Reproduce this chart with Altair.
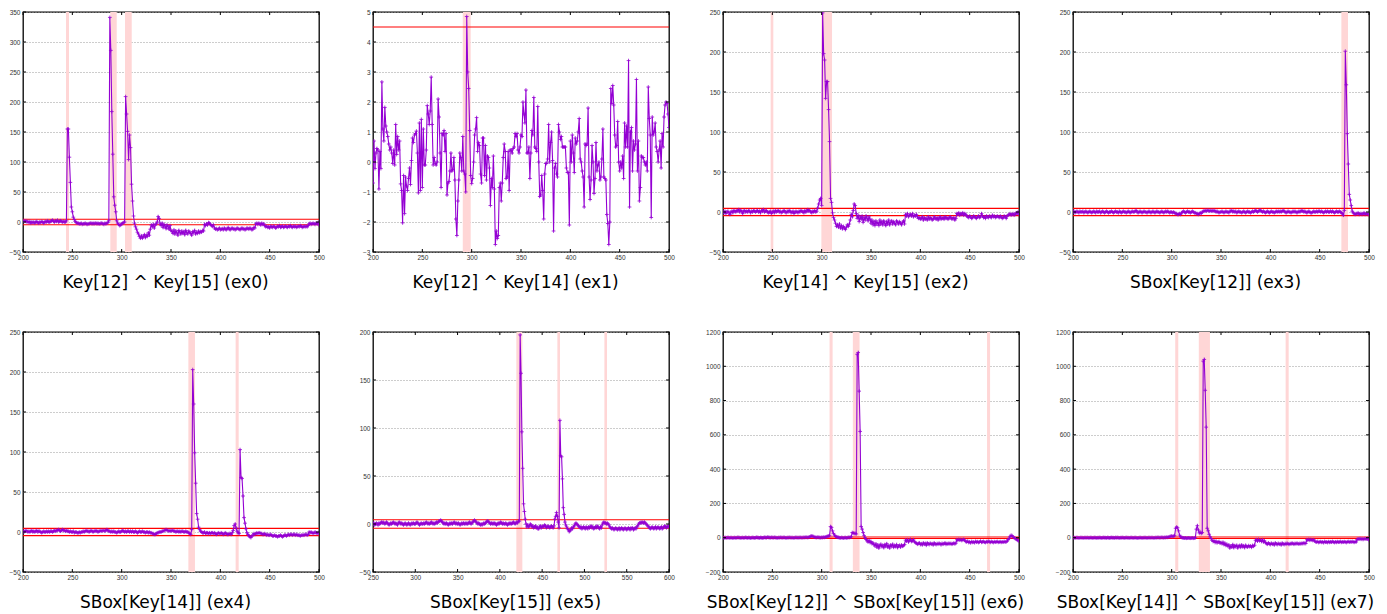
import altair as alt
import pandas as pd

PURPLE = "#9400d3"
BAND = "#ffd6d6"
RED = "#ff0000"
PLUS = "M-1,0L1,0M0,-1L0,1"
W, H = 296, 240

THRESHOLDS = [4.5, -4.5]
X_TICKS_A = [200, 250, 300, 350, 400, 450, 500]
X_TICKS_B = [250, 300, 350, 400, 450, 500, 550, 600]

TITLES = [
    "Key[12] ^ Key[15] (ex0)",
    "Key[12] ^ Key[14] (ex1)",
    "Key[14] ^ Key[15] (ex2)",
    "SBox[Key[12]] (ex3)",
    "SBox[Key[14]] (ex4)",
    "SBox[Key[15]] (ex5)",
    "SBox[Key[12]] ^ SBox[Key[15]] (ex6)",
    "SBox[Key[14]] ^ SBox[Key[15]] (ex7)",
]

# ---- ex0 : x 200..500
EX0 = [
    1, 2, 1, 2, 0, 1, -1, 1, -2, 0,
    -1, 0, -2, 0, 1, -1, -2, 0, -1, 1,
    0, -2, 0, 1, 0, 2, 0, 0, 1, 2,
    3, 1, 0, 2, 1, 3, 0, 1, 2, 1,
    0, 1, 0, 0, 2, 155, 155, 108, 66, 25,
    17, 8, 4, 1, -1, -2, -2, -3, -3, -2,
    -4, -3, -3, -2, -3, -4, -3, -3, -2, -2,
    -3, -2, -3, -2, -2, -3, -2, -3, -3, -2,
    -2, -3, -4, -2, -3, -2, -1, 2, 341, 286,
    184, 113, 42, 28, 17, 2, -2, -4, -6, -5,
    -3, -2, -1, 0, 209, 180, 151, 104, 145, 124,
    63, 35, 10, -2, -8, -12, -17, -20, -24, -27,
    -23, -27, -24, -21, -26, -22, -24, -18, -22, -12,
    -5, -8, -4, -10, -5, -3, 0, 9, 6, -3,
    -6, -2, -9, -4, -7, -11, -5, -8, -12, -6,
    -14, -16, -19, -13, -20, -15, -18, -22, -14, -17,
    -20, -15, -19, -16, -21, -14, -18, -20, -15, -17,
    -19, -22, -16, -18, -14, -20, -17, -19, -15, -18,
    -16, -17, -14, -15, -4, -6, -3, -5, -1, -2,
    -4, -6, -7, -5, -10, -12, -11, -13, -12, -10,
    -13, -12, -11, -13, -10, -12, -13, -11, -9, -12,
    -13, -11, -10, -12, -11, -13, -12, -10, -11, -12,
    -13, -11, -10, -12, -11, -13, -12, -10, -11, -12,
    -10, -11, -13, -12, -9, -10, -3, -2, -4, -2,
    -3, -5, -2, -4, -3, -6, -8, -7, -9, -8,
    -10, -7, -8, -9, -7, -8, -10, -9, -7, -8,
    -6, -9, -8, -7, -9, -8, -7, -8, -9, -7,
    -8, -6, -8, -9, -7, -8, -7, -9, -8, -7,
    -8, -6, -7, -9, -8, -7, -8, -7, -8, -6,
    -3, -2, -4, -3, -2, -3, -4, -2, -3, -1,
    -5,
]

# ---- ex1 : x 200..500
EX1 = [
    -0.7, 0.7, -0.22, 0.3, 0.45, 0.4, -0.9, 0.35, -0.22, 2.67,
    1.1, 0.7, 1.82, 1.2, 1.0, 0.85, 0.6, 0.4, 0.5, 0.3,
    -0.05, 0.4, -0.1, 1.25, 0.25, 0.85, 0.4, 0.7, -0.73, -0.95,
    -2.03, -0.45, -1.72, -0.5, -0.8, -0.95, -0.55, -0.2, -0.75, 0.05,
    0.8, 0.65, 0.9, 0.95, 1.03, 0.3, -1.03, 1.3, -0.95, 1.42,
    -0.85, 1.1, -0.1, -0.1, 0.4, 1.88, 1.6, 1.25, 1.7, 2.83,
    1.25, -0.1, 0.15, -0.05, -0.1, 0.0, 2.1, 1.5, 0.3, -0.85,
    0.95, 0.9, 1.05, 0.35, 0.95, -1.1, -0.7, -0.65, -0.3, 0.3,
    -0.3, -0.25, 0.15, -0.6, -1.9, -2.45, -1.3, -0.6, 0.3, 0.15,
    -0.3, 0.85, -0.3, -0.4, -1.0, 4.85, 3.0, 2.45, 1.05, -0.45,
    -0.72, -0.55, 0.0, 0.9, 1.1, 1.48, 0.35, 0.65, 0.55, -0.4,
    -0.7, 0.8, 0.8, -0.45, 0.55, -0.6, 0.2, 0.15, -0.2, -1.45,
    -0.55, -0.85, 0.2, -0.9, -2.75, -2.3, -2.55, -2.45, -0.85, -0.7,
    -1.3, -0.7, 0.15, 0.6, 0.35, -0.55, -0.5, 0.35, -0.95, 0.4,
    0.4, 0.3, 0.45, 0.5, 0.95, 0.85, 0.95, 0.4, 0.3, 0.5,
    0.9, 0.85, 2.0, 1.6, 1.3, 2.4, 0.3, 0.3, 0.5, -0.55,
    0.3, 1.05, 0.9, 2.15, 0.5, 0.45, 0.35, 1.85, 0.0, -1.15,
    -1.1, -0.45, -0.95, -1.9, -0.4, -0.05, -0.05, 0.1, 1.25, 0.0,
    0.65, 1.0, 0.05, -2.3, -0.2, -0.05, -0.4, -0.5, 1.25, 1.0,
    0.75, 0.85, 0.5, 0.5, 0.5, 0.5, -0.2, -0.35, -0.35, -2.1,
    0.7, 0.0, 0.9, 0.3, -0.35, 0.8, 0.6, 0.7, 1.0, 1.45,
    0.1, 0.0, -0.3, -0.5, -1.5, 0.6, 0.55, 0.6, 1.8, -0.5,
    -1.25, -0.6, 0.55, 0.0, -1.05, -0.55, 0.65, -0.3, -0.1, 0.0,
    -0.6, -0.5, 0.1, 1.1, -0.5, -0.55, -0.6, -1.75, -2.05, -2.75,
    -2.0, 2.45, 1.95, 2.55, 1.9, 0.9, 0.5, 0.55, 1.35, 0.0,
    -0.3, 0.0, -0.2, 0.2, -0.55, 1.3, 0.5, 1.2, 0.5, 3.38,
    -1.5, 1.0, 1.15, -0.3, 0.7, 0.4, 0.6, 2.75, -0.3, 0.7,
    -1.3, -0.85, 0.2, 0.15, 0.15, 0.0, -0.1, 0.0, -0.3, 2.5,
    1.45, 0.9, -1.85, 1.5, 0.9, 1.0, 1.3, 0.5, 0.35, 0.0,
    0.4, 0.7, -0.2, 0.95, 0.5, 1.5, 1.9, 2.0, 1.95, 1.6,
    1.15,
]

# ---- ex2 : x 200..500
EX2 = [
    0, -1, 1, -2, 0, 1, -1, -3, 0, 1,
    -1, 2, 1, 0, 2, 1, 3, 0, 2, 1,
    -2, 1, 2, 0, 1, 0, 2, 1, -1, 1,
    0, 2, 1, 0, 1, 2, 0, 1, -1, 2,
    1, 3, 0, 1, 2, 0, -1, 0, 1, -2,
    0, 1, -1, 2, 0, 1, 2, 0, 1, -1,
    0, 1, 2, 0, -1, 1, 0, 2, 1, -1,
    0, 1, -2, 0, 1, 0, -1, 1, 0, 2,
    1, 0, -1, 2, 0, 1, 3, 1, 2, 0,
    -1, 1, 0, 2, 0, 1, 5, 10, 15, 17,
    8, 249, 198, 190, 142, 163, 163, 128, 88, 17,
    12, -1, -7, -10, -14, -18, -16, -19, -15, -20,
    -17, -21, -18, -20, -22, -19, -16, -18, -15, -10,
    -3, -6, 2, 10, 8, -2, -8, -4, -12, -6,
    -9, -5, -13, -7, -10, -5, -8, -11, -6, -9,
    -14, -10, -16, -12, -17, -11, -15, -13, -17, -10,
    -15, -12, -16, -11, -14, -17, -12, -15, -10, -16,
    -13, -11, -15, -12, -14, -16, -11, -13, -15, -12,
    -14, -16, -13, -11, -15, -3, -5, -2, -6, -4,
    -3, -5, -2, -6, -4, -5, -3, -6, -8, -7,
    -9, -8, -6, -10, -7, -9, -8, -10, -6, -9,
    -7, -8, -10, -9, -6, -8, -9, -7, -10, -8,
    -6, -9, -8, -7, -9, -6, -8, -7, -9, -8,
    -6, -7, -9, -8, -7, -10, -8, -2, -3, -1,
    -4, -2, -3, -1, -4, -2, -3, -5, -6, -7,
    -5, -6, -8, -7, -5, -6, -7, -8, -6, -5,
    -7, -6, -2, -5, -7, -6, -8, -5, -6, -7,
    -5, -6, -7, -4, -6, -5, -7, -6, -5, -6,
    -7, -5, -6, -8, -7, -5, -6, -8, -5, -4,
    -3, -2, -4, -3, -2, -4, -3, -1, -2, 0,
    -3,
]

# ---- ex3 : x 200..500
EX3 = [
    0, 1, -1, 0, 1, 0, -1, 1, 0, 0,
    1, -1, 0, 1, 0, -1, 0, 1, 0, -1,
    0, 1, 0, -1, 1, 0, 0, 1, -1, 0,
    1, 0, -1, 0, 1, 0, -1, 0, 0, 1,
    0, -1, 0, 1, 0, 0, -1, 1, 0, -1,
    0, 1, 0, 0, -1, 0, 1, 0, -1, 0,
    1, 0, 0, 1, 2, 0, -1, 0, 1, 0,
    -1, 0, 1, 0, 0, -1, 0, 1, 0, -1,
    0, 1, 0, -1, 0, 1, 0, 0, -1, 0,
    1, 0, -1, 0, 1, 0, 1, 0, -1, 0,
    0, -1, 0, -1, -2, -2, -3, -3, -2, -3,
    -1, 0, 1, 0, -1, 0, 1, 0, 0, -1,
    0, 1, 0, -1, -1, -2, -2, -3, -2, -1,
    -2, 0, 1, 1, 2, 1, 2, 2, 1, 2,
    1, 2, 1, 2, 1, 0, 1, 0, -1, 0,
    0, 1, 0, -1, 0, 1, 0, 0, -1, 1,
    1, 2, 0, 1, 0, 1, -1, 0, 1, 0,
    0, -1, 0, 1, 0, -1, 0, 1, 0, 0,
    -1, 0, 1, 0, 1, 2, 1, 0, 1, 2,
    2, 1, 0, 1, 0, -1, 0, 1, 0, -1,
    0, 1, 0, 0, -1, 0, 1, 0, 1, 0,
    1, 0, 1, 2, 1, 0, -1, 0, 1, 0,
    0, -1, 0, 1, 0, 1, 0, -1, 0, 1,
    0, 1, 2, 1, 0, 1, 0, -1, 0, 1,
    0, -1, -1, 0, 1, 0, 0, 1, 0, 1,
    1, 0, 1, 0, -1, 0, 1, 0, 1, 0,
    0, 1, 0, 1, 0, -1, 0, 1, 0, 0,
    1, 0, -1, -2, -4, 2, 201, 159, 98, 60,
    22, 15, 8, 1, -1, -2, -3, -2, -2, -1,
    -3, -2, -2, -3, -2, -1, -3, -2, -2, -3,
    -3,
]

# ---- ex4 : x 200..500
EX4 = [
    1, 0, 1, 2, 1, 0, 1, 0, 1, 2,
    0, 1, 0, 1, 2, 0, 1, 1, 0, -1,
    0, 1, 0, 0, 1, 0, 1, 0, 1, 1,
    0, 1, 2, 1, 2, 2, 3, 2, 1, 2,
    3, 2, 2, 1, 2, 1, 1, 0, 1, 0,
    0, 1, -1, 0, 0, -1, -1, 0, -1, 0,
    0, 1, 0, 1, 2, 1, 1, 0, 1, 2,
    1, 0, 1, 1, 2, 1, 0, 1, 1, 2,
    1, 2, 2, 1, 2, 3, 2, 1, 1, 0,
    1, 0, 1, 0, 0, -1, 0, 1, 0, 0,
    1, 2, 1, 0, 1, 0, 1, 1, 0, 1,
    0, 1, 0, 0, 1, 0, -1, 0, 1, 0,
    0, 1, 0, 0, -1, 0, 0, -1, 0, -1,
    -1, -2, -2, -3, -3, -2, -1, -1, 0, 0,
    0, 1, 1, 2, 2, 3, 2, 2, 1, 2,
    1, 2, 2, 1, 1, 0, 1, 1, 0, 1,
    0, 1, 1, 0, 0, 1, 0, 0, -1, -2,
    -3, 3, 203, 160, 99, 61, 23, 16, 6, 3,
    1, 0, -1, -1, 0, -2, -1, -1, -2, -1,
    -2, -1, -1, -2, -1, -2, -3, -2, -1, -2,
    -2, -1, -2, -3, -2, -1, -2, -3, -3, -2,
    -2, -3, -1, 2, 8, 10, 5, 1, -1, -2,
    103, 68, 67, 45, 18, 11, 4, -1, -3, -5,
    -6, -7, -5, -4, -2, -3, -2, -1, -2, -1,
    -1, -2, -2, -3, -3, -2, -3, -4, -3, -4,
    -4, -3, -4, -5, -5, -4, -5, -5, -6, -5,
    -5, -4, -5, -6, -5, -4, -4, -5, -4, -3,
    -4, -3, -3, -4, -3, -3, -4, -3, -4, -4,
    -4, -5, -4, -4, -4, -4, -3, -3, -4, -3,
    0, -1, 0, -1, -2, -1, 0, -1, -2, -1,
    -2,
]

# ---- ex5 : x 250..600
EX5 = [
    0, 1, -1, 0, 1, 0, -1, 1, 0, 1,
    2, 1, 2, 1, 0, 1, 2, 1, 0, -1,
    0, 1, 0, 1, 2, 1, 0, 1, 0, -1,
    1, 2, 1, 0, 1, 0, -1, 0, 1, 0,
    -1, 0, 1, 0, -1, 0, 1, 0, 1, 0,
    0, 1, 2, 1, 0, -1, 0, 1, 0, 0,
    1, 0, 1, 2, 1, 0, 1, 0, 1, 2,
    1, 0, 1, 0, 1, 2, 1, 2, 3, 3,
    4, 3, 2, 1, 0, 1, 0, 1, 0, -1,
    0, 1, 0, 1, 0, 1, 2, 1, 0, 1,
    0, 1, 0, -1, 0, 1, 0, 1, 0, 1,
    0, 1, 0, 1, 2, 1, 0, 1, 2, 3,
    4, 3, 2, 1, 0, 1, 0, -1, 0, -1,
    0, 1, 0, 1, 2, 3, 3, 2, 1, 0,
    1, 0, 1, 0, 1, 0, -1, 0, 1, 0,
    1, 2, 1, 0, 1, 0, 0, 1, 0, -1,
    0, 1, 0, 1, 0, 1, 2, 1, 0, 1,
    2, 1, 3, 3, 197, 157, 96, 58, 21, 13,
    5, 0, -3, -1, -3, -2, 0, -1, -3, -2,
    -4, -3, -2, -4, -3, -5, -5, -3, -2, -4,
    -3, -2, -3, -1, -2, -4, -3, -2, -3, -4,
    -3, -2, -3, -4, -2, 5, 8, 12, 8, 2,
    -4, 108, 71, 70, 47, 17, 10, 2, -1, -3,
    -5, -6, -8, -7, -6, -4, -5, -3, -2, 0,
    1, 0, -1, -2, -3, -4, -3, -5, -4, -3,
    -4, -5, -3, -4, -5, -3, -4, -3, -2, -4,
    -3, -5, -4, -3, -4, -2, -3, -4, -5, -3,
    -4, -1, 1, 2, 1, 1, 0, 1, 0, -1,
    -3, -4, -5, -4, -5, -6, -5, -4, -5, -6,
    -5, -4, -6, -5, -4, -5, -6, -5, -4, -5,
    -6, -5, -4, -5, -6, -4, -5, -4, -6, -5,
    -4, -5, -3, -2, 0, 1, 1, 2, 1, 2,
    1, 2, 1, 0, -1, -2, -3, -4, -5, -4,
    -3, -4, -5, -4, -3, -5, -4, -3, -4, -5,
    -4, -3, -5, -4, -3, -2, -3, -4, -3, -2,
    -3,
]

# ---- ex6 : x 200..500
EX6 = [
    0, -2, 1, 0, -1, 2, 0, -1, 1, 0,
    -2, 0, 1, -1, 0, 2, 1, 0, -1, 0,
    1, -1, 0, 2, 0, -1, 1, 0, -2, 0,
    1, 0, -1, 0, 2, 1, 0, -1, 1, 0,
    -1, 0, 2, 1, 0, 3, 2, 1, 0, 2,
    1, 0, 2, 1, 0, -1, 1, 0, 2, 1,
    0, 1, 2, 0, -1, 1, 0, 2, 1, 0,
    1, 0, -1, 1, 2, 0, 1, 0, 2, 1,
    0, 1, 2, 1, 3, 2, 1, 3, 5, 9,
    10, 8, 6, 3, 2, 1, 3, 2, 1, 0,
    2, 1, 3, 2, 4, 6, 8, 10, 12, 65,
    60, 40, 25, 15, 8, 5, 3, 2, 0, -1,
    1, 0, -2, 0, 1, -1, 0, 2, 1, 3,
    5, 30, 28, 25, 25, 22, 1070, 1080, 855, 620,
    65, 50, 30, 12, 0, -10, -18, -25, -15, -28,
    -22, -35, -30, -40, -48, -36, -55, -42, -60, -45,
    -38, -52, -44, -58, -40, -50, -35, -55, -46, -60,
    -42, -50, -38, -56, -45, -52, -40, -58, -48, -44,
    -55, -42, -50, -46, -40, -14, -20, -12, -25, -15,
    -10, -22, -18, -12, -24, -28, -32, -38, -34, -30,
    -40, -35, -42, -30, -38, -33, -44, -30, -36, -40,
    -32, -38, -35, -42, -30, -37, -40, -34, -38, -32,
    -36, -41, -33, -38, -35, -30, -39, -34, -37, -32,
    -36, -33, -38, -35, -31, -36, -32, -12, -15, -10,
    -14, -11, -16, -12, -10, -15, -22, -25, -20, -28,
    -24, -30, -22, -27, -25, -29, -21, -26, -23, -28,
    -25, -20, -27, -24, -22, -26, -28, -23, -25, -21,
    -24, -27, -22, -25, -28, -23, -26, -24, -22, -27,
    -25, -23, -27, -24, -26, -22, -25, -24, -20, -10,
    -5, 8, 14, 12, 5, 0, -4, -8, -12, -16,
    -20,
]

# ---- ex7 : x 200..500
EX7 = [
    0, 1, -1, 0, 1, 0, -1, 0, 1, 0,
    0, -1, 1, 0, 0, 1, -1, 0, 1, 0,
    -1, 0, 1, 0, -1, 0, 0, 1, 0, -1,
    0, 1, 0, 0, -1, 1, 0, -1, 0, 1,
    0, 0, -1, 1, 0, 1, 0, -1, 0, 0,
    1, 0, -1, 0, 1, 0, 0, -1, 0, 1,
    0, -1, 0, 1, 0, -2, -1, 0, 1, 0,
    -1, 0, 0, 1, 0, -1, 0, 1, 0, 0,
    1, 0, -1, 0, 1, 0, 2, 1, 0, 1,
    2, 1, 0, 2, 1, 3, 2, 4, 6, 8,
    10, 7, 9, 12, 55, 62, 58, 40, 15, 5,
    2, 0, -1, -2, -1, -3, -2, -1, -2, -3,
    -2, -1, -3, -2, 0, 50, 70, 45, 28, 32,
    25, 30, 1030, 1040, 860, 645, 55, 40, 20, 5,
    -5, -15, -22, -18, -28, -20, -30, -25, -22, -32,
    -28, -35, -26, -40, -32, -45, -38, -50, -42, -60,
    -48, -55, -40, -58, -46, -52, -44, -60, -50, -45,
    -56, -42, -53, -47, -58, -44, -51, -55, -46, -52,
    -48, -56, -45, -50, -44, -15, -12, -20, -10, -18,
    -14, -22, -12, -25, -18, -28, -34, -38, -30, -36,
    -40, -32, -38, -35, -42, -30, -36, -40, -33, -38,
    -35, -42, -31, -37, -40, -34, -38, -32, -36, -39,
    -34, -37, -31, -35, -38, -33, -36, -32, -35, -37,
    -33, -36, -32, -35, -30, -34, -33, -12, -14, -10,
    -15, -11, -13, -16, -12, -20, -24, -26, -22, -28,
    -25, -23, -27, -24, -29, -22, -26, -25, -28, -23,
    -27, -24, -26, -22, -25, -28, -24, -27, -23, -26,
    -25, -22, -27, -24, -26, -23, -25, -28, -24, -22,
    -26, -23, -25, -22, -24, -27, -23, -25, -10, -7,
    -8, -5, -9, -6, -10, -7, -5, -8, -6, -4,
    -15,
]

SERIES = [EX0, EX1, EX2, EX3, EX4, EX5, EX6, EX7]
X_START = [200, 200, 200, 200, 200, 250, 200, 200]
X_DOMAINS = [[200, 500]] * 5 + [[250, 600]] + [[200, 500]] * 2
X_TICKS = [X_TICKS_A] * 5 + [X_TICKS_B] + [X_TICKS_A] * 2

Y_DOMAINS = [[-50, 350], [-3, 5], [-50, 250], [-50, 250],
             [-50, 250], [-50, 200], [-200, 1200], [-200, 1200]]
Y_TICKS = [
    [-50, 0, 50, 100, 150, 200, 250, 300, 350],
    [-3, -2, -1, 0, 1, 2, 3, 4, 5],
    [-50, 0, 50, 100, 150, 200, 250],
    [-50, 0, 50, 100, 150, 200, 250],
    [-50, 0, 50, 100, 150, 200, 250],
    [-50, 0, 50, 100, 150, 200],
    [-200, 0, 200, 400, 600, 800, 1000, 1200],
    [-200, 0, 200, 400, 600, 800, 1000, 1200],
]

BAND_LO = [[243.6, 288.5, 303.4], [291.0], [248.3, 299.7], [472.0],
           [367.6, 415.5], [419.5, 468.0, 523.6], [308.0, 331.6, 467.6],
           [303.6, 327.5, 415.5]]
BAND_HI = [[246.6, 295.0, 310.2], [299.0], [251.0, 310.5], [478.7],
           [374.3, 418.6], [426.6, 471.1, 526.7], [311.1, 338.4, 470.7],
           [306.7, 338.8, 418.6]]

LABEL_FONT = "Liberation Sans"


def make_panel(i):
    vals = SERIES[i]
    x0 = X_START[i]
    df = pd.DataFrame({"x": [x0 + k for k in range(len(vals))], "y": vals})
    bands = pd.DataFrame({"lo": BAND_LO[i], "hi": BAND_HI[i]})
    thr = pd.DataFrame({"t": THRESHOLDS})
    xt = pd.DataFrame({"v": X_TICKS[i]})
    yt = pd.DataFrame({"v": Y_TICKS[i]})

    xs = alt.Scale(domain=X_DOMAINS[i], nice=False, zero=False)
    ys = alt.Scale(domain=Y_DOMAINS[i], nice=False, zero=False)
    xaxis = alt.Axis(
        values=X_TICKS[i], format="d", title=TITLES[i], grid=False,
        ticks=False, domain=False, labelFlush=False, labelOverlap=False,
        labelFontSize=6.5, labelPadding=2, labelColor="#333333",
        labelFont=LABEL_FONT,
        titleFontSize=17, titleFontWeight="normal", titleColor="black",
        titleFont="DejaVu Sans", titlePadding=14, titleX=W / 2 - 6,
        titleAlign="center",
    )
    yaxis = alt.Axis(
        values=Y_TICKS[i], format="d", title="", grid=True,
        gridDash=[1, 2], gridColor="#9a9a9a", gridWidth=1,
        ticks=False, domain=False, labelFlush=False, labelOverlap=False,
        labelFontSize=6.5, labelPadding=3, labelColor="#333333",
        labelFont=LABEL_FONT,
    )

    def X(f):
        return alt.X(f, type="quantitative", scale=xs, axis=xaxis)

    def Y(f):
        return alt.Y(f, type="quantitative", scale=ys, axis=yaxis)

    band = alt.Chart(bands).mark_rect(color=BAND, opacity=1).encode(
        x=X("lo"), x2=alt.X2("hi"), y=alt.value(0), y2=alt.value(H))
    rules = alt.Chart(thr).mark_rule(color=RED, strokeWidth=1.1, clip=True).encode(
        y=Y("t"))
    line = alt.Chart(df).mark_line(color=PURPLE, strokeWidth=1.1, clip=True).encode(
        x=X("x"), y=Y("y"))
    pts = alt.Chart(df).mark_point(
        shape=PLUS, size=14, filled=False, color=PURPLE, strokeWidth=0.8,
        opacity=1, clip=True).encode(x=X("x"), y=Y("y"))
    tick_top = alt.Chart(xt).mark_rule(color="black", strokeWidth=1).encode(
        x=X("v"), y=alt.value(0), y2=alt.value(3))
    tick_bot = alt.Chart(xt).mark_rule(color="black", strokeWidth=1).encode(
        x=X("v"), y=alt.value(H - 3), y2=alt.value(H))
    tick_left = alt.Chart(yt).mark_rule(color="black", strokeWidth=1).encode(
        y=Y("v"), x=alt.value(0), x2=alt.value(3))
    tick_right = alt.Chart(yt).mark_rule(color="black", strokeWidth=1).encode(
        y=Y("v"), x=alt.value(W - 3), x2=alt.value(W))

    return alt.layer(band, rules, line, pts, tick_top, tick_bot,
                     tick_left, tick_right).properties(width=W, height=H)


panels = [make_panel(i) for i in range(8)]

chart = alt.concat(
    *panels, columns=4, spacing={"row": 80, "column": 54}, bounds="flush"
).properties(
    padding={"left": 0, "top": 0, "right": 0, "bottom": 0}
).configure(
    font="DejaVu Sans", background="white"
).configure_view(
    stroke="black", strokeWidth=1.3
)

chart.save("out.html", embed_options={"renderer": "svg", "actions": False})
